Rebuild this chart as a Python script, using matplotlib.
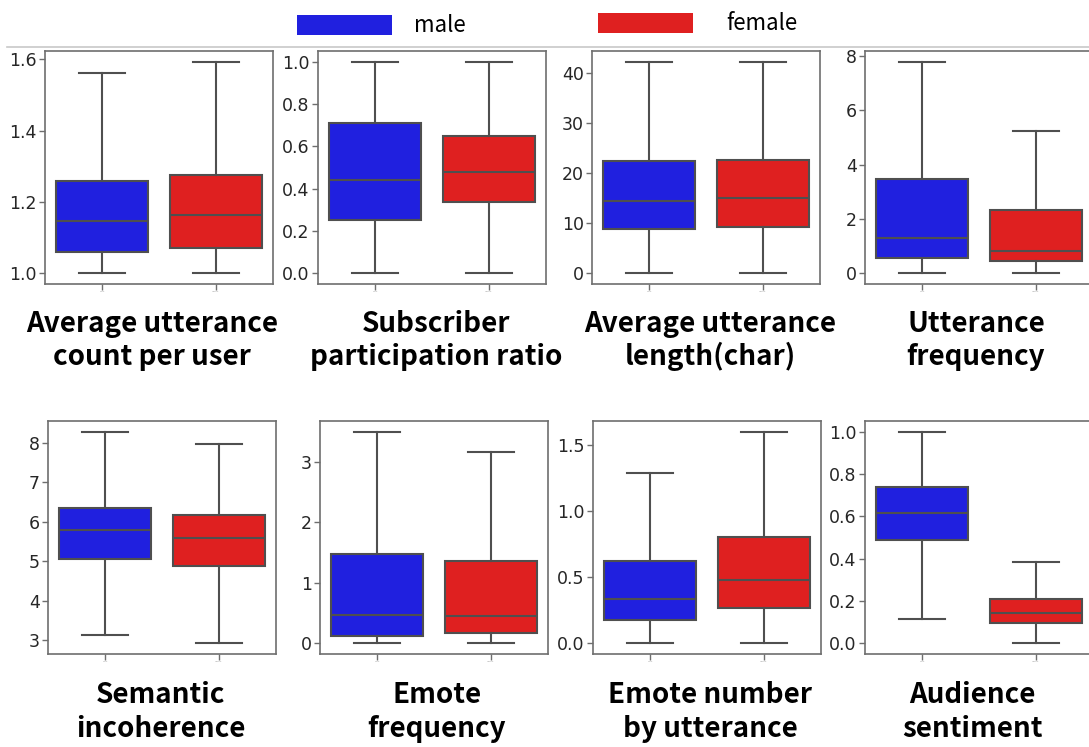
import matplotlib
matplotlib.use('Agg')
import matplotlib.pyplot as plt
from matplotlib.patches import Rectangle
from matplotlib.lines import Line2D
from matplotlib.ticker import MultipleLocator

plt.rcParams['font.family'] = ['DejaVu Sans']

# ---------------- data ----------------
groups = ['male', 'female']
colors = ['#2020df', '#df2020']

title_line1 = ['Average utterance', 'Subscriber', 'Average utterance', 'Utterance',
               'Semantic', 'Emote', 'Emote number', 'Audience']
title_line2 = ['count per user', 'participation ratio', 'length(char)', 'frequency',
               'incoherence', 'frequency', 'by utterance', 'sentiment']

male_whislo = [1.00, 0.00, 0.0, 0.00, 3.13, 0.00, 0.00, 0.117]
male_q1     = [1.06, 0.251, 8.93, 0.57, 5.07, 0.13, 0.179, 0.49]
male_med    = [1.146, 0.44, 14.35, 1.30, 5.79, 0.47, 0.338, 0.616]
male_q3     = [1.26, 0.711, 22.3, 3.46, 6.36, 1.48, 0.622, 0.738]
male_whishi = [1.562, 1.00, 42.2, 7.79, 8.29, 3.50, 1.289, 1.00]

female_whislo = [1.00, 0.00, 0.0, 0.00, 2.92, 0.00, 0.00, 0.00]
female_q1     = [1.07, 0.336, 9.3, 0.44, 4.89, 0.165, 0.264, 0.094]
female_med    = [1.163, 0.479, 15.0, 0.83, 5.58, 0.447, 0.478, 0.145]
female_q3     = [1.277, 0.651, 22.5, 2.35, 6.17, 1.36, 0.80, 0.209]
female_whishi = [1.594, 1.00, 42.2, 5.24, 7.97, 3.17, 1.599, 0.383]

ytick_step = [0.2, 0.2, 10, 2, 1, 1, 0.5, 0.2]

# ---------------- layout ----------------
W, H = 1089, 747
fig = plt.figure(figsize=(W / 100, H / 100), dpi=100)
fig.patch.set_facecolor('white')

def fx(x):
    return x / W

def fy(y):
    return 1 - y / H

ax_lefts = [45, 318, 592, 865, 48, 320, 593, 865]
ax_width = 228
row_top = [51, 421]
row_bot = [284, 654]
title_cx = [152, 436, 710, 976, 161, 437, 710, 972]
title_base1 = [332, 703]
title_base2 = [365, 737]

line_col = '#4f4f4f'
spine_col = '#6e6e6e'
title_font = ['Noto Sans CJK KR', 'DejaVu Sans']

for i in range(8):
    r = i // 4
    left = ax_lefts[i]
    ax = fig.add_axes([fx(left), fy(row_bot[r]), ax_width / W, (row_bot[r] - row_top[r]) / H])
    stats = [
        dict(whislo=male_whislo[i], q1=male_q1[i], med=male_med[i], q3=male_q3[i],
             whishi=male_whishi[i], fliers=[], label=groups[0]),
        dict(whislo=female_whislo[i], q1=female_q1[i], med=female_med[i], q3=female_q3[i],
             whishi=female_whishi[i], fliers=[], label=groups[1]),
    ]
    bp = ax.bxp(stats, positions=[0, 1], widths=0.8, patch_artist=True, showfliers=False,
                boxprops=dict(edgecolor=line_col, linewidth=1.5),
                medianprops=dict(color=line_col, linewidth=1.5),
                whiskerprops=dict(color=line_col, linewidth=1.5),
                capprops=dict(color=line_col, linewidth=1.5))
    for patch, c in zip(bp['boxes'], colors):
        patch.set_facecolor(c)
    ax.set_xlim(-0.5, 1.5)
    ax.margins(y=0.05)
    ax.autoscale_view()
    ax.yaxis.set_major_locator(MultipleLocator(ytick_step[i]))
    for sp in ax.spines.values():
        sp.set_color(spine_col)
        sp.set_linewidth(1.2)
    ax.tick_params(axis='y', labelsize=12.5, length=4, width=1, color=spine_col,
                   labelcolor='#262626', pad=2)
    ax.tick_params(axis='x', labelsize=1.5, length=4, width=1, color=spine_col,
                   labelcolor='#999999', pad=1)

    fig.text(fx(title_cx[i]), fy(title_base1[r]), title_line1[i], ha='center', va='baseline',
             fontsize=20, fontweight='bold', family=title_font)
    fig.text(fx(title_cx[i]), fy(title_base2[r]), title_line2[i], ha='center', va='baseline',
             fontsize=20, fontweight='bold', family=title_font)

# separator line under legend
fig.add_artist(Line2D([fx(7), fx(W)], [fy(47), fy(47)], color='#c8c8c8', linewidth=1.2))

# legend
leg_rects = [(297, 15), (598, 13)]
leg_text_x = [414, 726]
for (lx, ly), c, name, tx in zip(leg_rects, colors, groups, leg_text_x):
    fig.add_artist(Rectangle((fx(lx), fy(ly + 20)), 95 / W, 20 / H, transform=fig.transFigure,
                             facecolor=c, edgecolor='none'))
    fig.text(fx(tx), fy(ly + 10), name, ha='left', va='center', fontsize=16,
             family=title_font, color='black')

fig.savefig('out.png', dpi=100, facecolor='white')
